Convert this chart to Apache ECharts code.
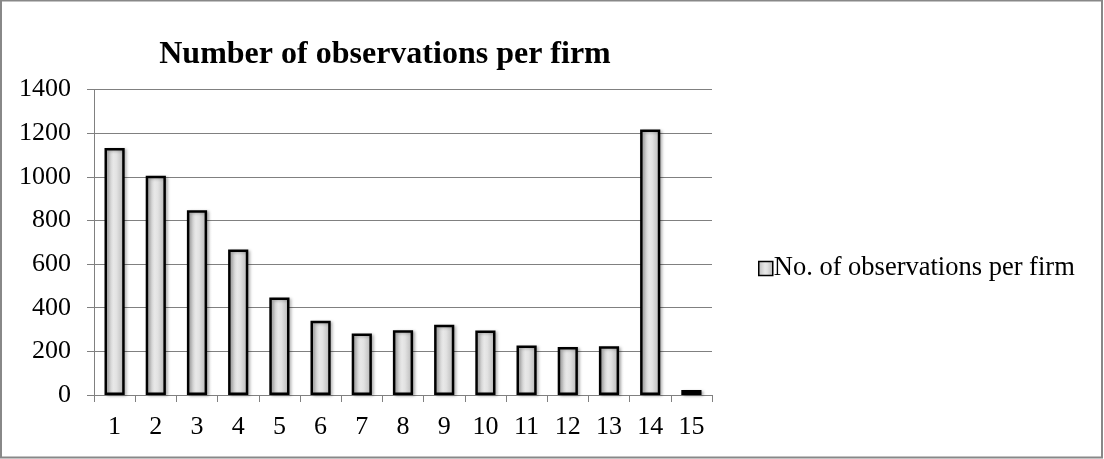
<!DOCTYPE html>
<html>
<head>
<meta charset="utf-8">
<script src="https://cdn.jsdelivr.net/npm/echarts@6/dist/echarts.min.js"></script>
<style>
  html, body { margin: 0; padding: 0; background: #fff; }
  #chart { width: 1104px; height: 459px; }
</style>
</head>
<body>
<div id="chart"></div>
<script>
// Firms grouped by number of observations
const categories = ['1', '2', '3', '4', '5', '6', '7', '8', '9', '10', '11', '12', '13', '14', '15'];
const observations = [1132, 1005, 847, 667, 447, 340, 282, 297, 322, 296, 227, 220, 223, 1217, 23];
const yTicks = { min: 0, max: 1400, step: 200 };
const seriesName = 'No. of observations per firm';
const chartTitle = 'Number of observations per firm';

const serif = "'Liberation Serif', 'Times New Roman', serif";
const axisGray = '#808080';

const barFill = new echarts.graphic.LinearGradient(0, 0, 1, 0, [
  { offset: 0, color: '#bbbbbb' },
  { offset: 0.45, color: '#e8e8e8' },
  { offset: 0.6, color: '#e2e2e2' },
  { offset: 1, color: '#b3b3b3' }
]);

const chart = echarts.init(document.getElementById('chart'), null, { renderer: 'canvas' });
chart.setOption({
  animation: false,
  backgroundColor: '#fff',
  title: {
    text: chartTitle,
    left: 380,
    top: 34,
    textAlign: 'center',
    textStyle: { fontFamily: serif, fontWeight: 'bold', fontSize: 32, color: '#000' }
  },
  legend: {
    orient: 'vertical',
    left: 753,
    top: 250,
    itemWidth: 14,
    itemHeight: 14,
    icon: 'rect',
    textStyle: { fontFamily: serif, fontSize: 26.5, color: '#000', padding: [0, 0, 0, -4] },
    itemStyle: { borderColor: '#000', borderWidth: 1.5 }
  },
  grid: { left: 94, right: 392, top: 89.5, bottom: 64, containLabel: false },
  xAxis: {
    type: 'category',
    data: categories,
    boundaryGap: true,
    axisLine: { lineStyle: { color: axisGray, width: 1 } },
    axisTick: { show: true, alignWithLabel: false, length: 7, lineStyle: { color: axisGray } },
    axisLabel: { fontFamily: serif, fontSize: 26, color: '#000', margin: 19 }
  },
  yAxis: {
    type: 'value',
    min: yTicks.min,
    max: yTicks.max,
    interval: yTicks.step,
    axisLine: { show: true, lineStyle: { color: axisGray, width: 1 } },
    axisTick: { show: true, length: 7, lineStyle: { color: axisGray } },
    axisLabel: {
      fontFamily: serif, fontSize: 26, color: '#000', margin: 23,
      formatter: v => String(v)
    },
    splitLine: { show: true, lineStyle: { color: axisGray, width: 1 } }
  },
  series: [{
    name: seriesName,
    type: 'bar',
    data: observations,
    barWidth: '49%',
    itemStyle: {
      color: barFill,
      borderColor: '#000',
      borderWidth: 2.5,
      shadowColor: 'rgba(0,0,0,0.25)',
      shadowBlur: 3,
      shadowOffsetX: 2,
      shadowOffsetY: 1
    }
  }],
  graphic: [{
    type: 'rect',
    shape: { x: 1, y: 0.5, width: 1101, height: 457 },
    style: { fill: 'none', stroke: '#888', lineWidth: 2 },
    silent: true
  }]
});
</script>
</body>
</html>
